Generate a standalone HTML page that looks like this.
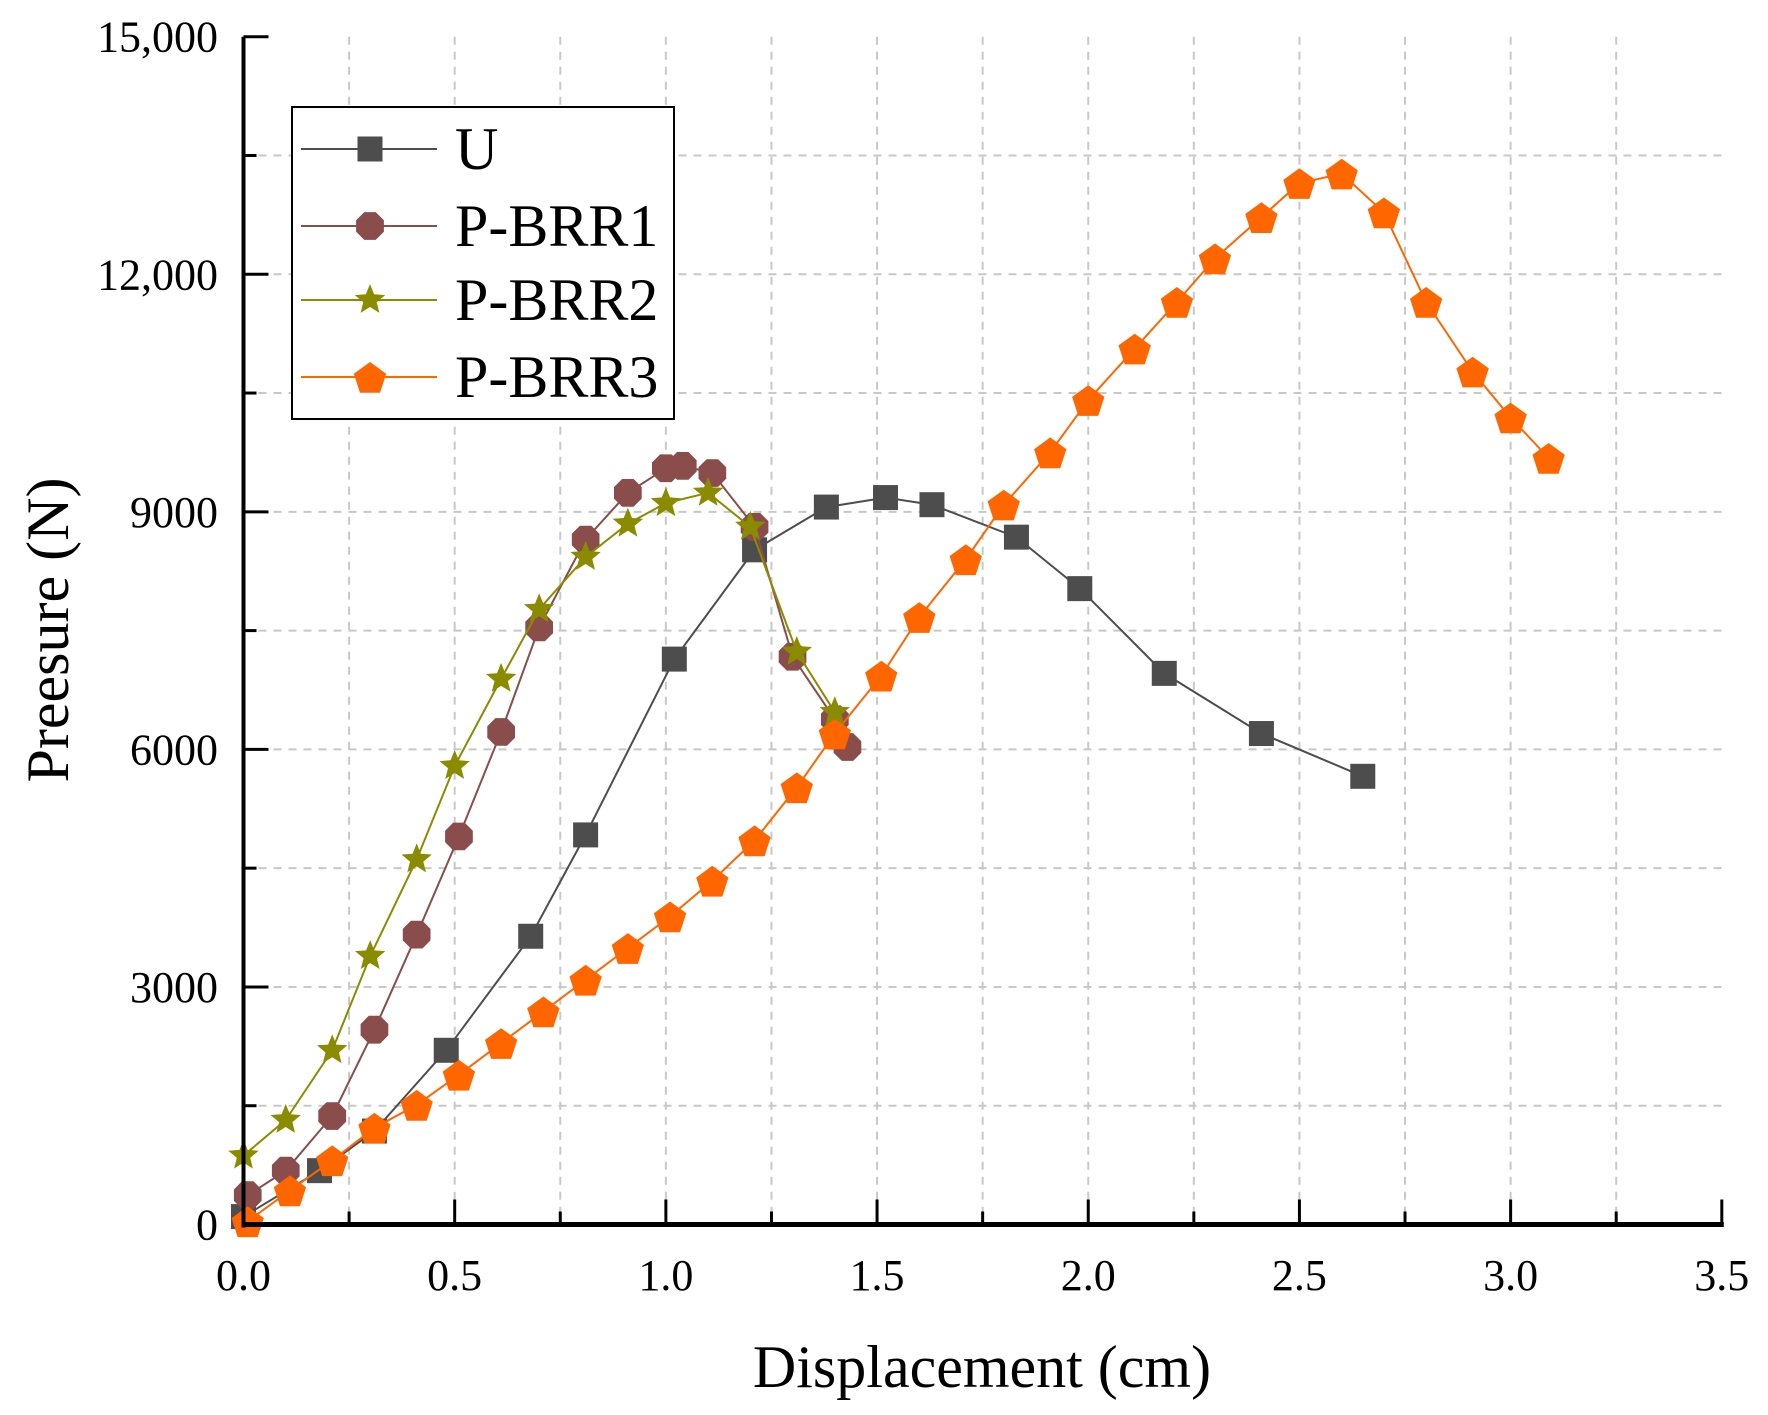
<!DOCTYPE html>
<html><head><meta charset="utf-8">
<style>
html,body{margin:0;padding:0;background:#fff;}
svg{display:block;font-family:"Liberation Serif",serif;}
</style></head>
<body>
<svg id="chart" width="1768" height="1415" viewBox="0 0 1768 1415" xmlns="http://www.w3.org/2000/svg">
<g id="grid"></g>
<g id="series"></g>
<g id="axes"></g>
<text x="982" y="1387" font-size="60" text-anchor="middle">Displacement (cm)</text>
<text x="0" y="0" font-size="60" text-anchor="middle" transform="translate(68,630) rotate(-90)">Preesure (N)</text>
<g id="legend">
<rect x="292" y="107" width="382" height="312" fill="#fff" stroke="#000" stroke-width="2"/>
</g>
</svg>
<script>
const uX=[0,0.18,0.31,0.48,0.68,0.81,1.02,1.21,1.38,1.52,1.63,1.83,1.98,2.18,2.41,2.65];
const uY=[100,680,1180,2200,3640,4920,7140,8520,9060,9180,9090,8680,8030,6960,6200,5660];
const b1X=[0.01,0.10,0.21,0.31,0.41,0.51,0.61,0.70,0.81,0.91,1.00,1.04,1.11,1.21,1.30,1.40,1.43];
const b1Y=[370,680,1370,2460,3660,4900,6220,7540,8650,9240,9550,9580,9490,8810,7170,6380,6030];
const b2X=[0.0,0.10,0.21,0.30,0.41,0.50,0.61,0.70,0.81,0.91,1.00,1.10,1.20,1.31,1.40];
const b2Y=[870,1320,2200,3390,4610,5790,6890,7770,8430,8850,9110,9240,8810,7230,6470];
const b3X=[0.01,0.11,0.21,0.31,0.41,0.51,0.61,0.71,0.81,0.91,1.01,1.11,1.21,1.31,1.40,1.51,1.60,1.71,1.80,1.91,2.00,2.11,2.21,2.30,2.41,2.50,2.60,2.70,2.80,2.91,3.00,3.09];
const b3Y=[40,430,810,1220,1510,1890,2290,2690,3090,3490,3890,4340,4850,5520,6200,6930,7670,8400,9090,9750,10410,11060,11650,12200,12720,13150,13270,12780,11650,10770,10190,9680];
const xTicks=[0,0.5,1.0,1.5,2.0,2.5,3.0,3.5];
const xTickLabels=["0.0","0.5","1.0","1.5","2.0","2.5","3.0","3.5"];
const yTicks=[0,3000,6000,9000,12000,15000];
const yTickLabels=["0","3000","6000","9000","12,000","15,000"];
const legendNames=["U","P-BRR1","P-BRR2","P-BRR3"];

const NS="http://www.w3.org/2000/svg";
const X0=243.5,X1=1721.8,Y0=1224.5,Y1=36.7;
const sx=v=>X0+(v/3.5)*(X1-X0);
const sy=v=>Y0-(v/15000)*(Y0-Y1);
function mk(tag,attrs,parent){const e=document.createElementNS(NS,tag);for(const k in attrs)e.setAttribute(k,attrs[k]);parent.appendChild(e);return e;}
const grid=document.getElementById('grid'),axes=document.getElementById('axes'),ser=document.getElementById('series'),leg=document.getElementById('legend');

for(let v=0.25;v<=3.26;v+=0.25){const l=mk('line',{x1:sx(v),x2:sx(v),y1:Y1,y2:Y0,stroke:'#c8c8c8','stroke-width':2,'stroke-dasharray':'8 7'},grid);

}
for(let v=1500;v<15000;v+=1500){const l=mk('line',{x1:X0,x2:X1,y1:sy(v),y2:sy(v),stroke:'#c8c8c8','stroke-width':2,'stroke-dasharray':'8 7'},grid);

}

let a=mk('line',{x1:X0,x2:X0,y1:Y1,y2:Y0+3,stroke:'#000','stroke-width':4},axes);


a=mk('line',{x1:X0-2,x2:X1+2,y1:Y0,y2:Y0,stroke:'#000','stroke-width':5},axes);


for(let v=0.25;v<=3.5;v+=0.25){const maj=Math.abs(v*2-Math.round(v*2))<1e-6;const t=mk('line',{x1:sx(v),x2:sx(v),y1:Y0,y2:Y0-(maj?25:13),stroke:'#000','stroke-width':3},axes);

}
for(let v=1500;v<=15000;v+=1500){const maj=v%3000===0;const t=mk('line',{x1:X0,x2:X0+(maj?25:13),y1:sy(v),y2:sy(v),stroke:'#000','stroke-width':3},axes);

}
xTicks.forEach((v,i)=>{const t=mk('text',{x:sx(v),y:1290,'font-size':44,'text-anchor':'middle'},axes);t.textContent=xTickLabels[i];

});
yTicks.forEach((v,i)=>{const t=mk('text',{x:218,y:sy(v)+15,'font-size':44,'text-anchor':'end'},axes);t.textContent=yTickLabels[i];

});

function marker(type,cx,cy,color,parent){
  let e;
  if(type==='square'){e=mk('rect',{x:cx-12.5,y:cy-12.5,width:25,height:25,fill:color},parent);}
  else if(type==='oct'){const r=15,p=[];for(let k=0;k<8;k++){const an=Math.PI/8+k*Math.PI/4;p.push((cx+r*Math.cos(an)).toFixed(1)+','+(cy+r*Math.sin(an)).toFixed(1));}e=mk('polygon',{points:p.join(' '),fill:color},parent);}
  else if(type==='star'){const p=[];for(let k=0;k<10;k++){const r=k%2?7:16;const an=-Math.PI/2+k*Math.PI/5;p.push((cx+r*Math.cos(an)).toFixed(1)+','+(cy+r*Math.sin(an)).toFixed(1));}e=mk('polygon',{points:p.join(' '),fill:color},parent);}
  else {const p=[];for(let k=0;k<5;k++){const an=-Math.PI/2+k*2*Math.PI/5;p.push((cx+17*Math.cos(an)).toFixed(1)+','+(cy+2+17*Math.sin(an)).toFixed(1));}e=mk('polygon',{points:p.join(' '),fill:color},parent);}
  return e;
}
const defs=[
 {xs:uX,ys:uY,color:'#4d4d4d',type:'square',name:'series-u'},
 {xs:b1X,ys:b1Y,color:'#8b4c4c',type:'oct',name:'series-p-brr1'},
 {xs:b3X,ys:b3Y,color:'#ff6600',type:'pent',name:'series-p-brr3'},
 {xs:b2X,ys:b2Y,color:'#8b8b00',type:'star',name:'series-p-brr2'}
];
defs.forEach(d=>{
  const g=mk('g',{},ser);
  
  
  const pts=d.xs.map((x,i)=>sx(x).toFixed(1)+','+sy(d.ys[i]).toFixed(1)).join(' ');
  const pl=mk('polyline',{points:pts,fill:'none',stroke:d.color,'stroke-width':2},g);
  
  
  d.xs.forEach((x,i)=>{const m=marker(d.type,sx(x),sy(d.ys[i]),d.color,g);
    
    });
});
const legRows=[[149,'#4d4d4d','square'],[226,'#8b4c4c','oct'],[300,'#8b8b00','star'],[377,'#ff6600','pent']];
legRows.forEach((r,i)=>{
  const g=mk('g',{},leg);
  
  
  mk('line',{x1:301,x2:437,y1:r[0],y2:r[0],stroke:r[1],'stroke-width':2},g);
  marker(r[2],370,r[0],r[1],g);
  const t=mk('text',{x:455,y:r[0]+20,'font-size':60},g);t.textContent=legendNames[i];
});
</script>
</body></html>
